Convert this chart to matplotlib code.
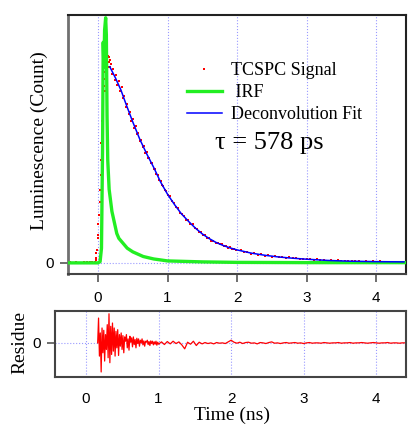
import numpy as np
import matplotlib
matplotlib.use("Agg")
import matplotlib.pyplot as plt

# ---- data ----
# TCSPC signal (red dots): rise, then decay
sig_t = [-0.40, -0.36, -0.32, -0.28, -0.24, -0.20, -0.16, -0.12, -0.08, -0.05,
         -0.043, -0.036, -0.029, -0.022, -0.014, -0.007, 0.000, 0.007, 0.014, 0.022,
         0.029, 0.036, 0.043, 0.050, 0.058, 0.065, 0.072, 0.079, 0.086, 0.094,
         0.101, 0.108, 0.115, 0.122, 0.130, 0.137, 0.144, 0.151, 0.158, 0.166, 0.173,
         0.18, 0.20, 0.22, 0.24, 0.26, 0.28, 0.30, 0.32, 0.34, 0.36,
         0.38, 0.40, 0.42, 0.44, 0.46, 0.48, 0.50, 0.52, 0.54, 0.56,
         0.58, 0.60, 0.62, 0.64, 0.66, 0.68, 0.70, 0.72, 0.74, 0.76,
         0.78, 0.80, 0.82, 0.84, 0.86, 0.88, 0.90, 0.92, 0.94, 0.96,
         0.98, 1.00,
         1.03, 1.06, 1.09, 1.12, 1.15, 1.18, 1.21, 1.24, 1.27, 1.30,
         1.33, 1.36, 1.39, 1.42, 1.45, 1.48, 1.51, 1.54, 1.57, 1.60,
         1.63, 1.66, 1.69, 1.72, 1.75, 1.78, 1.81, 1.84, 1.87, 1.90,
         1.93, 1.96, 1.99,
         2.05, 2.10, 2.15, 2.20, 2.25, 2.30, 2.35, 2.40, 2.45, 2.50,
         2.55, 2.60, 2.65, 2.70, 2.75, 2.80, 2.85, 2.90, 2.95, 3.00,
         3.05, 3.10, 3.15, 3.20, 3.25, 3.30, 3.35, 3.40, 3.45, 3.50,
         3.55, 3.60, 3.65, 3.70, 3.75, 3.80, 3.85, 3.90, 3.95, 4.00,
         4.05, 4.10, 4.15, 4.20, 4.25, 4.30, 4.35, 4.40]
sig_y = [0.002, 0.000, 0.003, 0.001, 0.000, 0.004, 0.002, 0.003, 0.005, 0.004,
         0.004, 0.012, 0.020, 0.040, 0.053, 0.100, 0.114, 0.160, 0.196, 0.250,
         0.298, 0.360, 0.420, 0.490, 0.580, 0.620, 0.686, 0.720, 0.750, 0.700,
         0.780, 0.800, 0.812, 0.790, 0.830, 0.800, 0.845, 0.820, 0.838, 0.800, 0.828,
         0.812, 0.770, 0.790, 0.748, 0.768, 0.725, 0.741, 0.702, 0.716, 0.671,
         0.679, 0.637, 0.648, 0.608, 0.616, 0.580, 0.586, 0.552, 0.557, 0.524,
         0.528, 0.497, 0.500, 0.474, 0.476, 0.450, 0.451, 0.428, 0.428, 0.406,
         0.406, 0.384, 0.383, 0.361, 0.358, 0.338, 0.334, 0.316, 0.313, 0.297,
         0.293, 0.277,
         0.271, 0.251, 0.246, 0.226, 0.223, 0.204, 0.201, 0.191, 0.176, 0.173,
         0.158, 0.157, 0.142, 0.140, 0.127, 0.126, 0.113, 0.113, 0.101, 0.101,
         0.091, 0.091, 0.083, 0.083, 0.075, 0.075, 0.068, 0.069, 0.062, 0.063,
         0.056, 0.058, 0.051,
         0.052, 0.044, 0.045, 0.038, 0.040, 0.034, 0.035, 0.030, 0.031, 0.026,
         0.027, 0.023, 0.024, 0.020, 0.022, 0.018, 0.019, 0.016, 0.017, 0.014,
         0.016, 0.012, 0.014, 0.011, 0.012, 0.009, 0.011, 0.008, 0.010, 0.007,
         0.009, 0.006, 0.008, 0.006, 0.007, 0.005, 0.007, 0.005, 0.006, 0.004,
         0.006, 0.004, 0.005, 0.004, 0.005, 0.003, 0.005, 0.004]

# instrument response function (green)
irf_t = [-0.43, 0.00, 0.03, 0.05, 0.065, 0.075, 0.085, 0.095, 0.11, 0.12,
         0.13, 0.14, 0.16, 0.20, 0.27, 0.30, 0.42, 0.50, 0.65, 0.80,
         1.00, 1.50, 2.00, 3.00, 4.42]
irf_y = [0.0, 0.0, 0.005, 0.06, 0.45, 0.90, 0.80, 0.95, 1.00, 0.93,
         0.60, 0.42, 0.30, 0.21, 0.12, 0.10, 0.06, 0.045, 0.026, 0.016,
         0.008, 0.004, 0.002, 0.001, 0.001]

# deconvolution fit (blue)
fit_t = [0.17, 0.25, 0.33, 0.40, 0.50, 0.60, 0.70, 0.80, 0.90, 1.00,
         1.10, 1.20, 1.30, 1.40, 1.50, 1.60, 1.70, 1.80, 1.90, 2.00,
         2.20, 2.40, 2.60, 2.80, 3.00, 3.30, 3.60, 4.00, 4.40]
fit_y = [0.800, 0.755, 0.705, 0.650, 0.575, 0.505, 0.445, 0.390, 0.330, 0.280,
         0.238, 0.200, 0.170, 0.142, 0.118, 0.099, 0.083, 0.071, 0.061, 0.053,
         0.040, 0.031, 0.024, 0.019, 0.015, 0.010, 0.007, 0.005, 0.004]

# residue (bottom panel)
res_t = [0.160, 0.172, 0.184, 0.196, 0.208, 0.220, 0.232, 0.244, 0.256, 0.268,
         0.280, 0.292, 0.304, 0.316, 0.328, 0.340, 0.352, 0.364, 0.376, 0.388,
         0.400, 0.412, 0.424, 0.436, 0.448, 0.460, 0.472, 0.484, 0.496, 0.508,
         0.520, 0.532, 0.544, 0.556, 0.568, 0.580, 0.592, 0.604, 0.616, 0.628,
         0.640, 0.652, 0.664, 0.676, 0.688, 0.700, 0.712, 0.724, 0.736, 0.748,
         0.760, 0.772, 0.784, 0.796, 0.808, 0.820, 0.832, 0.844, 0.856, 0.868,
         0.880, 0.892, 0.904, 0.916, 0.928, 0.940, 0.952, 0.964, 0.976, 0.988,
         1.000,
         1.04, 1.08, 1.12, 1.16, 1.20, 1.24, 1.28, 1.32, 1.36, 1.40,
         1.44, 1.48, 1.52, 1.56, 1.60, 1.64, 1.68, 1.72, 1.76, 1.80,
         1.84, 1.88, 1.92, 1.96, 2.00, 2.04, 2.08, 2.12, 2.16, 2.20,
         2.24, 2.28, 2.32, 2.36, 2.40, 2.44, 2.48, 2.52, 2.56, 2.60,
         2.64, 2.68, 2.72, 2.76, 2.80, 2.84, 2.88, 2.92, 2.96, 3.00,
         3.04, 3.08, 3.12, 3.16, 3.20, 3.24, 3.28, 3.32, 3.36, 3.40,
         3.44, 3.48, 3.52, 3.56, 3.60, 3.64, 3.68, 3.72, 3.76, 3.80,
         3.84, 3.88, 3.92, 3.96, 4.00, 4.04, 4.08, 4.12, 4.16, 4.20,
         4.24, 4.28, 4.32, 4.36, 4.40]
res_y = [0.00, 0.75, -0.40, 0.30, -0.88, 0.45, -0.30, 0.38, -0.55, 0.25,
         -0.20, 0.55, -0.45, 0.88, -0.60, 0.50, -0.35, 0.60, -0.25, 0.45,
         -0.40, 0.35, -0.15, 0.40, -0.38, 0.25, -0.10, 0.30, -0.20, 0.22,
         -0.30, 0.18, 0.05, 0.25, -0.15, 0.12, -0.22, 0.20, 0.02, 0.15,
         -0.12, 0.18, -0.05, 0.10, -0.15, 0.14, -0.02, 0.12, -0.10, 0.08,
         0.00, 0.12, -0.06, 0.06, -0.10, 0.05, 0.02, 0.08, -0.05, 0.04,
         -0.08, 0.06, -0.02, 0.05, -0.06, 0.03, -0.04, 0.05, -0.07, 0.02,
         -0.04,
         0.03, -0.05, 0.04, -0.03, 0.05, -0.02, 0.03, -0.06, -0.18, 0.02,
         -0.04, 0.05, -0.08, 0.02, -0.03, 0.01, -0.02, 0.00, -0.03, 0.01,
         -0.01, 0.00, -0.02, 0.03, 0.08, 0.02, -0.01, 0.02, -0.02, 0.01,
         0.02, -0.01, 0.00, -0.03, 0.01, 0.00, -0.02, 0.01, 0.03, -0.01,
         0.00, -0.02, 0.00, 0.01, -0.01, 0.00, 0.01, -0.01, 0.00, -0.02,
         0.00, 0.01, -0.01, 0.00, 0.00, -0.01, 0.01, 0.00, -0.01, 0.00,
         0.00, 0.01, -0.01, 0.00, 0.00, 0.01, -0.01, 0.00, 0.00, 0.01,
         0.00, -0.01, 0.00, 0.01, 0.00, -0.01, 0.00, 0.00, 0.01, -0.01,
         0.00, 0.00, -0.01, 0.00, 0.00]

x_ticks = [0, 1, 2, 3, 4]
tau_label = "\u03c4 = 578 ps"

SERIF = "Liberation Serif"
SANS = "Liberation Sans"
GRID_COLOR = "#9a9aff"

plt.rcParams["font.family"] = SANS

fig = plt.figure(figsize=(4.17, 4.24), dpi=100)
ax = fig.add_axes([0.163, 0.354, 0.811, 0.611])
axr = fig.add_axes([0.132, 0.111, 0.842, 0.156])

# ---- top panel ----
for xt in x_ticks:
    ax.axvline(xt, color=GRID_COLOR, lw=0.8, ls=":", zorder=0)
ax.axhline(0, color=GRID_COLOR, lw=0.8, ls=":", zorder=0)

ax.plot(sig_t, sig_y, ls="none", marker="s", ms=2.0, mew=0, color="red",
        label="TCSPC Signal", zorder=2)
ax.plot(irf_t, irf_y, color="#22ee22", lw=2.4, label=" IRF", zorder=3)
ax.plot(fit_t, fit_y, color="#0000ff", lw=1.1, label="Deconvolution Fit", zorder=4)

ax.set_xlim(-0.432, 4.432)
ax.set_ylim(-0.045, 1.012)
ax.set_xticks(x_ticks)
ax.set_yticks([0])
ax.tick_params(axis="both", direction="out", length=6, width=1.2, color="#555555",
               labelsize=11, pad=4)
ax.tick_params(axis="x", pad=6)
ax.set_ylabel("Luminescence (Count)", family=SERIF, fontsize=14)
ax.yaxis.set_label_coords(-0.06, 0.514)

for side in ["top", "right"]:
    ax.spines[side].set_color("#222222")
    ax.spines[side].set_linewidth(1.5)
ax.spines["left"].set_color("#707070")
ax.spines["left"].set_linewidth(2)
ax.spines["bottom"].set_color("#444444")
ax.spines["bottom"].set_linewidth(1.5)

leg = ax.legend(loc="upper left", bbox_to_anchor=(0.448, 0.853),
                bbox_transform=fig.transFigure, frameon=False, borderpad=0,
                borderaxespad=0, handlelength=1.95, handletextpad=0.5,
                labelspacing=0.28, numpoints=1, markerscale=0.9,
                prop={"family": SERIF, "size": 13})

fig.text(0.516, 0.662, tau_label, family=SERIF, fontsize=19,
         ha="left", va="center")

# ---- residue panel ----
for xt in x_ticks:
    axr.axvline(xt, color=GRID_COLOR, lw=0.8, ls=":", zorder=0)
axr.axhline(0, color=GRID_COLOR, lw=0.8, ls=":", zorder=0)
axr.plot(res_t, res_y, color="red", lw=0.9, zorder=2)

axr.set_xlim(-0.428, 4.414)
axr.set_ylim(-1.03, 0.97)
axr.set_xticks(x_ticks)
axr.set_yticks([0])
axr.tick_params(axis="x", length=0, labelsize=11, pad=11)
axr.tick_params(axis="y", direction="out", length=6, width=1.2, color="#555555",
                labelsize=11, pad=4)
axr.set_ylabel("Residue", family=SERIF, fontsize=14)
axr.yaxis.set_label_coords(-0.075, 0.52)
axr.set_xlabel("Time (ns)", family=SERIF, fontsize=14)
axr.xaxis.set_label_coords(0.504, -0.45)
for side in axr.spines:
    axr.spines[side].set_color("#444444")
    axr.spines[side].set_linewidth(1.5)

fig.savefig("out.png", dpi=100)
